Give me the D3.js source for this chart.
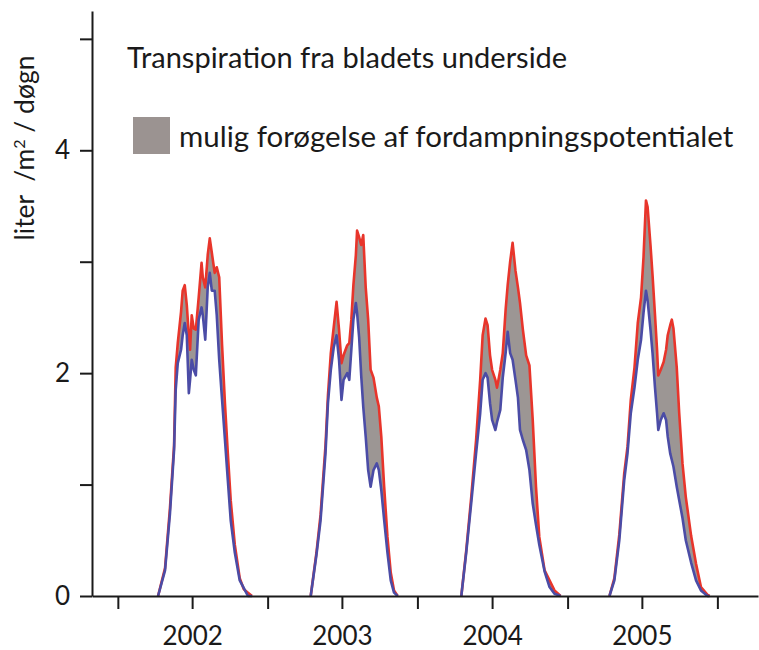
<!DOCTYPE html>
<html>
<head>
<meta charset="utf-8">
<script src="https://cdn.jsdelivr.net/npm/d3@7"></script>
<style>
  body { margin: 0; background: #fff; }
  text { font-family: Lato, "Open Sans", sans-serif; fill: #1a1a1a; }
</style>
</head>
<body>
<div id="viz"></div>
<script>
// chart values
const years = [2002, 2003, 2004, 2005];
const yTicks = [0, 1, 2, 3, 4, 5];
const yTickLabels = ["0", "", "2", "", "4", ""];

const titleText = "Transpiration fra bladets underside";
const legendText = "mulig forøgelse af fordampningspotentialet";

// day of year for each sample, per season
const days2002 = [98, 115, 127, 137, 141, 146, 154, 158, 163, 168, 173, 176, 180, 185, 190, 197, 204, 207, 213, 219, 224, 229, 236, 241, 247, 254, 261, 268, 275, 285, 297, 307, 317, 327];
const days2003 = [105, 119, 129, 141, 147, 154, 161, 168, 174, 180, 185, 194, 199, 204, 209, 215, 218, 223, 228, 233, 239, 245, 251, 258, 266, 271, 277, 284, 292, 300, 308, 317];
const days2004 = [107, 119, 131, 143, 153, 159, 166, 171, 177, 182, 190, 194, 202, 208, 215, 220, 226, 232, 239, 245, 250, 257, 265, 273, 281, 289, 297, 310, 322, 334, 349];
const days2005 = [102, 114, 126, 138, 146, 154, 163, 171, 179, 185, 191, 195, 202, 207, 213, 218, 221, 227, 234, 240, 244, 250, 254, 258, 266, 272, 280, 288, 301, 313, 325, 341, 346];

// red line (upper) - liter / m2 / day
const potential2002 = [0, 0.25, 0.79, 1.35, 2.05, 2.27, 2.55, 2.74, 2.79, 2.61, 2.34, 2.21, 2.52, 2.40, 2.39, 2.68, 2.99, 2.86, 2.77, 3.06, 3.21, 3.08, 2.90, 2.95, 2.86, 2.25, 1.73, 1.28, 0.86, 0.46, 0.16, 0.06, 0.03, 0];
const potential2003 = [0, 0.39, 0.73, 1.35, 1.80, 2.18, 2.41, 2.64, 2.39, 2.09, 2.16, 2.25, 2.27, 2.48, 2.79, 3.06, 3.28, 3.22, 3.15, 3.24, 2.77, 2.48, 2.03, 1.96, 1.78, 1.70, 1.43, 0.98, 0.53, 0.21, 0.05, 0];
const potential2004 = [0, 0.41, 0.88, 1.40, 1.94, 2.34, 2.49, 2.43, 2.16, 2.03, 1.94, 1.87, 2.03, 2.18, 2.57, 2.79, 3.00, 3.17, 2.92, 2.77, 2.63, 2.39, 2.16, 2.07, 1.58, 0.98, 0.53, 0.23, 0.14, 0.05, 0];
const potential2005 = [0, 0.16, 0.55, 1.10, 1.34, 1.76, 2.05, 2.45, 2.68, 3.04, 3.55, 3.49, 3.15, 2.88, 2.52, 2.21, 1.98, 2.03, 2.10, 2.21, 2.34, 2.43, 2.48, 2.40, 2.05, 1.64, 1.19, 0.89, 0.54, 0.29, 0.08, 0.01, 0];

// blue line (lower)
const actual2002 = [0, 0.23, 0.74, 1.31, 1.85, 2.09, 2.21, 2.34, 2.45, 2.34, 1.82, 1.94, 2.12, 2.03, 1.98, 2.48, 2.59, 2.52, 2.30, 2.77, 2.90, 2.74, 2.74, 2.52, 2.12, 1.76, 1.40, 1.04, 0.68, 0.39, 0.14, 0.07, 0, 0];
const actual2003 = [0, 0.37, 0.68, 1.28, 1.73, 2.03, 2.23, 2.34, 2.12, 1.76, 1.94, 2.00, 1.94, 2.21, 2.48, 2.63, 2.54, 2.32, 1.98, 1.70, 1.43, 1.13, 0.98, 1.13, 1.19, 1.13, 0.95, 0.68, 0.39, 0.14, 0.03, 0];
const actual2004 = [0, 0.39, 0.83, 1.28, 1.64, 1.94, 2.00, 1.96, 1.73, 1.58, 1.49, 1.56, 1.67, 1.96, 2.18, 2.37, 2.18, 2.12, 1.94, 1.78, 1.49, 1.40, 1.31, 1.13, 0.83, 0.64, 0.46, 0.22, 0.08, 0.02, 0];
const actual2005 = [0, 0.14, 0.50, 1.04, 1.28, 1.64, 1.87, 2.12, 2.30, 2.54, 2.74, 2.65, 2.39, 2.18, 1.87, 1.64, 1.49, 1.58, 1.64, 1.58, 1.43, 1.28, 1.22, 1.16, 0.98, 0.86, 0.70, 0.50, 0.30, 0.14, 0.05, 0, 0];

const dayArrays = [days2002, days2003, days2004, days2005];
const potentialArrays = [potential2002, potential2003, potential2004, potential2005];
const actualArrays = [actual2002, actual2003, actual2004, actual2005];

const width = 759, height = 650;

const svg = d3.select("#viz")
    .append("svg")
    .attr("width", width)
    .attr("height", height);

const x = d3.scaleTime()
    .domain([new Date(2001, 9, 30), new Date(2006, 3, 10)])
    .range([92, 758]);

const y = d3.scaleLinear()
    .domain([0, 5.25])
    .range([596, 11]);

const seasons = years.map((yr, i) => dayArrays[i].map((d, j) => ({
    date: new Date(yr, 0, 1 + d),
    hi: potentialArrays[i][j],
    lo: actualArrays[i][j]
})));

const band = d3.area()
    .x(d => x(d.date))
    .y0(d => y(d.lo))
    .y1(d => y(d.hi));

const hiLine = d3.line().x(d => x(d.date)).y(d => y(d.hi));
const loLine = d3.line().x(d => x(d.date)).y(d => y(d.lo));

const plot = svg.append("g");

plot.selectAll(".band")
    .data(seasons)
    .enter().append("path")
    .attr("class", "band")
    .attr("d", band)
    .attr("fill", "#9c9694");

plot.selectAll(".hi")
    .data(seasons)
    .enter().append("path")
    .attr("class", "hi")
    .attr("d", hiLine)
    .attr("fill", "none")
    .attr("stroke", "#e8352b")
    .attr("stroke-width", 2.6)
    .attr("stroke-linejoin", "round");

plot.selectAll(".lo")
    .data(seasons)
    .enter().append("path")
    .attr("class", "lo")
    .attr("d", loLine)
    .attr("fill", "none")
    .attr("stroke", "#4b4ca6")
    .attr("stroke-width", 2.6)
    .attr("stroke-linejoin", "round");

// axes
const xAxis = d3.axisBottom(x)
    .ticks(d3.timeMonth.every(6))
    .tickSize(13)
    .tickSizeOuter(0)
    .tickFormat(d => d.getMonth() === 6 ? d.getFullYear() : "");

const xAxisGroup = svg.append("g")
    .attr("transform", "translate(0,596)")
    .call(xAxis);

xAxisGroup.selectAll("text")
    .attr("y", 49)
    .attr("dy", 0)
    .style("font-size", "26px");

const yAxis = d3.axisLeft(y)
    .tickValues(yTicks)
    .tickSize(12)
    .tickSizeOuter(0)
    .tickPadding(10)
    .tickFormat((d, i) => yTickLabels[i]);

const yAxisGroup = svg.append("g")
    .attr("transform", "translate(92,0)")
    .call(yAxis);

yAxisGroup.selectAll("text")
    .style("font-size", "26px");

svg.selectAll(".domain, .tick line")
    .attr("stroke", "#1a1a1a")
    .attr("stroke-width", 2);

svg.selectAll(".tick text").attr("font-family", null).style("fill", "#1a1a1a");

// y label
const yLabel = svg.append("text")
    .attr("transform", "translate(34,148) rotate(-90)")
    .attr("text-anchor", "middle")
    .style("font-size", "26.5px");
yLabel.append("tspan").text("liter\u00a0 /m");
yLabel.append("tspan").attr("baseline-shift", "super").style("font-size", "16px").text("2");
yLabel.append("tspan").text(" / døgn");

// title and legend
svg.append("text")
    .attr("x", 127)
    .attr("y", 68)
    .style("font-size", "29px")
    .text(titleText);

svg.append("rect")
    .attr("x", 133)
    .attr("y", 117)
    .attr("width", 37)
    .attr("height", 37)
    .attr("fill", "#9b9391");

svg.append("text")
    .attr("x", 179)
    .attr("y", 147)
    .style("font-size", "29.5px")
    .text(legendText);
</script>
</body>
</html>
